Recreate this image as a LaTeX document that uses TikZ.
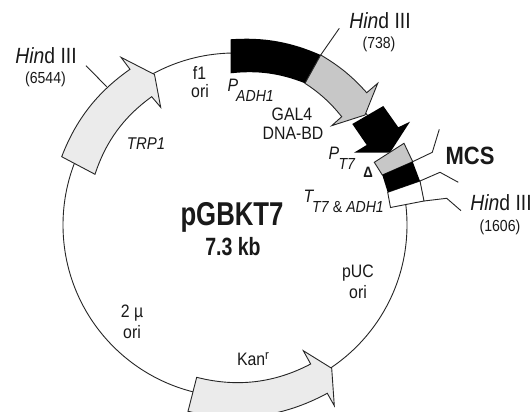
\documentclass[tikz,border=0pt]{standalone}
\usepackage{fontspec}
\setmainfont[FakeStretch=0.88]{Liberation Sans}
\newfontfamily\condfont[FakeStretch=0.78]{Liberation Sans}
\tikzset{
  ln/.style={draw=black!85,line width=0.9pt,line join=miter},
  lead/.style={draw=black!85,line width=0.9pt},
  lbl/.style={inner sep=0pt,text=black!90,align=center},
  big/.style={lbl,font=\fontsize{22}{22}\selectfont},
  mid/.style={lbl,font=\fontsize{18}{18}\selectfont},
  sml/.style={lbl,font=\fontsize{16}{16}\selectfont},
  arcb/.style={looseness=0.92}
}
\begin{document}
\begin{tikzpicture}[x=1pt,y=-1pt]
\useasboundingbox (0,0) rectangle (531,412);
\clip (0,0) rectangle (531,412);
\fill[white] (0,0) rectangle (531,412);
% ring
\draw[lead] (235,225) circle (172pt);
% TRP1
\draw[ln,fill=black!8] (61.7,156.7) to[bend left=17,arcb] (130,69.3) -- (121,57.3) -- (154.5,74.5) -- (160.7,107.3) -- (151.7,96.7) to[bend right=18,arcb] (95,174.3) -- cycle;
% Kan
\draw[ln,fill=black!8] (196.7,377.3) to[bend right=21,arcb] (310.7,364) -- (303.3,350.7) -- (331.7,368.3) -- (334.3,405.7) -- (327.3,393.3) to[bend left=21,arcb] (188,411.3) -- cycle;
% P ADH1 and GAL4
\fill[black] (230.7,39.3) to[bend left=14,arcb] (320.7,55) -- (305,83.3) to[bend right=14,arcb] (230.7,73.3) -- cycle;
\draw[ln,fill=black!22] (320.7,55) to[bend left=9,arcb] (366.7,92.7) -- (377.7,83.3) -- (365,115) -- (331.7,125.7) -- (341.7,116.7) to[bend right=9,arcb] (305,83.3) -- cycle;
% T7 arrow
\fill[black] (352.3,124) -- (383.3,106) -- (398.3,127.3) -- (410,121.7) -- (390,152.7) -- (354,152.7) -- (366.7,145) -- cycle;
% MCS box
\coordinate (m1) at (412.7,161.7);
\coordinate (m2) at (420,181);
\coordinate (m3) at (424,201);
\draw[ln,fill=black!22] (374.3,162.3) -- (404,143.3) -- (m1) -- (382.3,175) -- cycle;
\draw[ln,fill=white] (387.7,192.3) -- (m2) -- (m3) -- (390.5,207.5) -- cycle;
\fill[black] (382.3,175) -- (m1) -- (m2) -- (387.7,192.3) -- cycle;
% leaders
\coordinate (a1) at (432.3,152.3); \coordinate (a2) at (439.3,129.3);
\coordinate (b1) at (440,172.3);   \coordinate (b2) at (458.3,182.3);
\coordinate (c1) at (446.7,198.3); \coordinate (c2) at (461,210.7);
\draw[lead] (m1) -- (a1) -- (a2);
\draw[lead] (m2) -- (b1) -- (b2);
\draw[lead] (m3) -- (c1) -- (c2);
\coordinate (d0) at (320.7,55); \coordinate (d1) at (339.3,28.3);
\draw[lead] (d0) -- (d1);
\coordinate (e0) at (106.7,86.7); \coordinate (e1) at (86,65.7);
\draw[lead] (e0) -- (e1);
% labels
\node[big] (h1) at (380,21) {\textit{Hin}d III};
\node[sml] (n1) at (379,44) {(738)};
\node[big] (h2) at (46,56) {\textit{Hin}d III};
\node[sml] (n2) at (45.5,79) {(6544)};
\node[big] (h3) at (501,203) {\textit{Hin}d III};
\node[sml] (n3) at (500,227) {(1606)};
\node[mid] (f1) at (199.5,73) {f1};
\node[mid] (f2) at (200,91.5) {ori};
\node[lbl,font=\fontsize{17}{17}\selectfont] (trp) at (146,144) {\textit{TRP1}};
\node[mid] (pa) at (233,85) {\textit{P}};
\node[sml] (pb) at (255,96) {\textit{ADH1}};
\node[mid] (g1) at (292,114) {GAL4};
\node[mid] (g2) at (293,133) {DNA-BD};
\node[mid] (pc) at (334,153) {\textit{P}};
\node[sml] (pd) at (347,164) {\textit{T7}};
\node[lbl,font=\bfseries\fontsize{15}{15}\selectfont] (tri) at (368,172.5) {Δ};
\node[mid] (tc) at (309,196) {\textit{T}};
\node[sml] (td) at (348,207) {\textit{T7} \& \textit{ADH1}};
\node[lbl,font=\bfseries\fontsize{25}{25}\selectfont] (mcs) at (470,156) {MCS};
\node[lbl,font=\condfont\bfseries\fontsize{33}{33}\selectfont] (nm) at (232,217) {pGBKT7};
\node[lbl,font=\condfont\bfseries\fontsize{25}{25}\selectfont] (sz) at (233,247) {7.3 kb};
\node[mid] (u1) at (358,273) {pUC};
\node[mid] (u2) at (358,292) {ori};
\node[mid] (t1) at (132,313) {2 µ};
\node[mid] (t2) at (132,332) {ori};
\node[mid] (kan) at (253,359) {Kan\raisebox{6pt}{\fontsize{13}{13}\selectfont r}};
\end{tikzpicture}
\end{document}
